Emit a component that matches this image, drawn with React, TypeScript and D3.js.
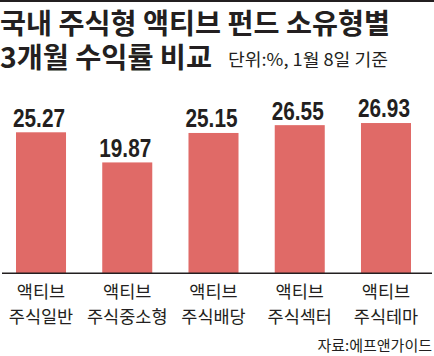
import React from "react";
import * as d3 from "d3";

const categoriesLine1 = ["액티브", "액티브", "액티브", "액티브", "액티브"];
const categoriesLine2 = ["주식일반", "주식중소형", "주식배당", "주식섹터", "주식테마"];
const values = [25.27, 19.87, 25.15, 26.55, 26.93];
const titleLines = ["국내 주식형 액티브 펀드 소유형별", "3개월 수익률 비교"];
const subtitle = "단위:%, 1월 8일 기준";
const source = "자료:에프앤가이드";

const W = 434;
const H = 356;
const BASE = 273.3;
const KR = "'Noto Sans CJK KR', 'Noto Sans', sans-serif";
const NUM = "'Liberation Sans Narrow', 'Liberation Sans', Arial, sans-serif";
const TEXT = "#231f20";
const BAR = "#e06a67";

export default function App() {
  React.useEffect(() => {
    document.body.style.margin = "0";
  }, []);
  const ids = values.map((_, i) => String(i));
  const x = d3.scaleBand<string>().domain(ids).range([16, 411]).paddingInner(0.42).paddingOuter(0);
  const y = d3.scaleLinear().domain([0, 10]).range([BASE, BASE - 55.8]);

  return (
    <svg width={W} height={H} style={{ display: "block", position: "absolute", left: 0, top: 0 }}>
      <rect x={0} y={0} width={W} height={H} fill="#fff" />
      <rect x={0} y={0} width={W} height={2} fill={TEXT} />
      <text x={0} y={34} fontFamily={KR} fontWeight={700} fontSize={28} fill={TEXT}
        textLength={390} lengthAdjust="spacingAndGlyphs">{titleLines[0]}</text>
      <text x={0} y={67.5} fontFamily={KR} fontWeight={700} fontSize={28} fill={TEXT}
        textLength={212} lengthAdjust="spacingAndGlyphs">{titleLines[1]}</text>
      <text x={228} y={66} fontFamily={KR} fontWeight={400} fontSize={17} fill={TEXT}
        textLength={160} lengthAdjust="spacingAndGlyphs">{subtitle}</text>

      {values.map((v, i) => {
        const bx = x(String(i))!;
        const bw = x.bandwidth();
        const cx = bx + bw / 2;
        return (
          <g key={i}>
            <rect x={bx} y={y(v)} width={bw} height={BASE - y(v)} fill={BAR} />
            <text x={cx - 2} y={y(v) - 5.6} textAnchor="middle" fontFamily={NUM} fontWeight={700}
              fontSize={25.5} fill={TEXT} textLength={52} lengthAdjust="spacingAndGlyphs">
              {v.toFixed(2)}
            </text>
            <text x={cx} y={298} textAnchor="middle" fontFamily={KR} fontSize={17.5} fill={TEXT}>
              {categoriesLine1[i]}
            </text>
            <text x={cx} y={323} textAnchor="middle" fontFamily={KR} fontSize={17.5} fill={TEXT}>
              {categoriesLine2[i]}
            </text>
          </g>
        );
      })}

      <line x1={2} x2={432} y1={BASE} y2={BASE} stroke={TEXT} strokeWidth={1.5} />
      <text x={432} y={350.5} textAnchor="end" fontFamily={KR} fontSize={15} fill={TEXT}>{source}</text>
    </svg>
  );
}
